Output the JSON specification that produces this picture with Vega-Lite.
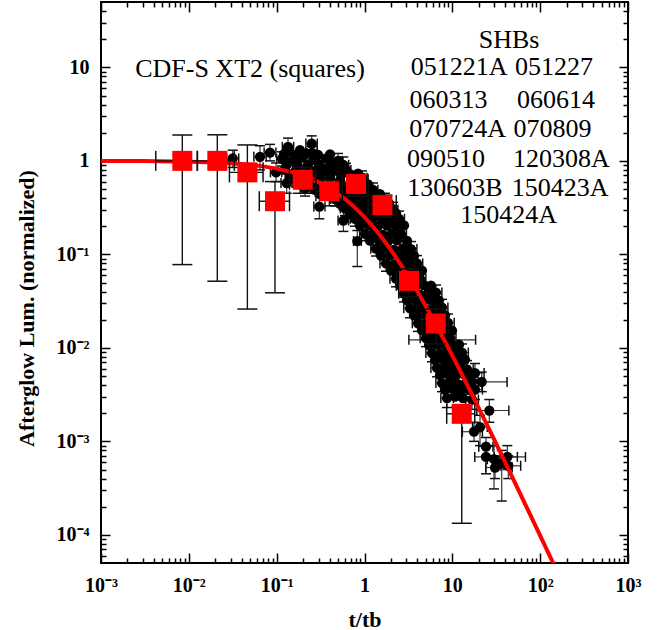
{
"$schema": "https://vega.github.io/schema/vega-lite/v6.json",
"width": 527, "height": 561,
"autosize": {"type": "none"},
"padding": {"left": 101, "top": 2, "right": 40, "bottom": 67},
"background": "white",
"config": {
  "view": {"stroke": "black", "strokeWidth": 2},
  "axis": {"domain": false, "grid": false, "tickColor": "black", "tickWidth": 1.5, "labelFont": "Liberation Serif", "labelFontWeight": "bold", "labelFontSize": 20, "labelColor": "black", "titleFont": "Liberation Serif", "titleFontWeight": "bold", "titleFontSize": 22, "titleColor": "black", "labelFlush": false, "labelOverlap": false}
},
"datasets": {
  "model": [
    {"x":0.001,"y":0.998},{"x":0.003,"y":0.994},{"x":0.01,"y":0.980},{"x":0.02,"y":0.961},{"x":0.03,"y":0.943},{"x":0.05,"y":0.907},{"x":0.07,"y":0.873},{"x":0.1,"y":0.826},{"x":0.15,"y":0.756},{"x":0.2,"y":0.694},{"x":0.25,"y":0.640},{"x":0.3,"y":0.592},{"x":0.4,"y":0.510},{"x":0.5,"y":0.444},{"x":0.6,"y":0.391},{"x":0.7,"y":0.346},{"x":0.85,"y":0.292},{"x":1,"y":0.25},{"x":1.25,"y":0.1975},{"x":1.5,"y":0.16},{"x":1.75,"y":0.1322},{"x":2,"y":0.1111},{"x":2.5,"y":0.0816},{"x":3,"y":0.0625},{"x":4,"y":0.04},{"x":5,"y":0.02778},{"x":6,"y":0.02041},{"x":7,"y":0.01563},{"x":8.5,"y":0.01108},{"x":10,"y":0.008264},{"x":12.5,"y":0.005487},{"x":15,"y":0.003906},{"x":20,"y":0.002268},{"x":25,"y":0.001479},{"x":30,"y":0.001041},{"x":40,"y":0.000595},{"x":50,"y":0.0003845},{"x":70,"y":0.0001984},{"x":100,"y":0.00009803},{"x":150,"y":0.00004386}
  ],
  "shb": [
    {"x":0.1346,"y":1.25},{"x":0.1843,"y":1.3},{"x":0.2526,"y":1.22},
    {"x":0.1212,"y":1.18},{"x":0.1618,"y":1.15},{"x":0.2158,"y":1.2},{"x":0.2956,"y":1.16},{"x":0.4048,"y":1.17},
    {"x":0.115,"y":1.05},{"x":0.1495,"y":1.0},{"x":0.1943,"y":1.08},{"x":0.2662,"y":1.02},{"x":0.3645,"y":1.06},{"x":0.4993,"y":1.0},
    {"x":0.1312,"y":0.92},{"x":0.1705,"y":0.93},{"x":0.2274,"y":0.91},{"x":0.3034,"y":0.92},{"x":0.4156,"y":0.94},{"x":0.5545,"y":0.91},
    {"x":0.1245,"y":0.82},{"x":0.1661,"y":0.80},{"x":0.2158,"y":0.84},{"x":0.2805,"y":0.79},{"x":0.3645,"y":0.83},{"x":0.4737,"y":0.81},{"x":0.6158,"y":0.80},
    {"x":0.1419,"y":0.72},{"x":0.1892,"y":0.73},{"x":0.246,"y":0.71},{"x":0.3198,"y":0.72},{"x":0.4156,"y":0.73},{"x":0.5402,"y":0.71},{"x":0.6841,"y":0.72},{"x":0.8435,"y":0.73},
    {"x":0.1419,"y":0.64},{"x":0.1843,"y":0.62},{"x":0.2396,"y":0.66},{"x":0.3115,"y":0.63},{"x":0.4048,"y":0.65},{"x":0.5262,"y":0.62},{"x":0.7209,"y":0.64},{"x":0.9367,"y":0.66},
    {"x":0.175,"y":0.565},{"x":0.2396,"y":0.56},{"x":0.3115,"y":0.57},{"x":0.4048,"y":0.565},{"x":0.5262,"y":0.56},{"x":0.6841,"y":0.57},{"x":0.8889,"y":0.565},{"x":1.0963,"y":0.56},
    {"x":0.2102,"y":0.50},{"x":0.2733,"y":0.49},{"x":0.3551,"y":0.52},{"x":0.4615,"y":0.50},{"x":0.5999,"y":0.48},{"x":0.7797,"y":0.51},{"x":1.0134,"y":0.50},{"x":1.25,"y":0.49},
    {"x":0.3115,"y":0.44},{"x":0.4048,"y":0.45},{"x":0.5262,"y":0.44},{"x":0.6841,"y":0.445},{"x":0.8889,"y":0.44},{"x":1.1553,"y":0.45},{"x":1.5014,"y":0.44},
    {"x":0.4615,"y":0.39},{"x":0.5999,"y":0.40},{"x":0.7797,"y":0.38},{"x":1.0134,"y":0.40},{"x":1.317,"y":0.39},{"x":1.712,"y":0.38},
    {"x":0.5262,"y":0.346},{"x":0.6841,"y":0.35},{"x":0.8889,"y":0.343},{"x":1.1553,"y":0.348},{"x":1.5014,"y":0.345},{"x":1.9008,"y":0.35},
    {"x":0.5999,"y":0.31},{"x":0.7797,"y":0.30},{"x":1.0134,"y":0.31},{"x":1.317,"y":0.30},{"x":1.712,"y":0.31},{"x":2.112,"y":0.30},
    {"x":0.6841,"y":0.27},{"x":0.8889,"y":0.275},{"x":1.1254,"y":0.268},{"x":1.4247,"y":0.272},{"x":1.8037,"y":0.27},{"x":2.284,"y":0.274},
    {"x":0.7797,"y":0.24},{"x":0.9872,"y":0.235},{"x":1.25,"y":0.245},{"x":1.583,"y":0.24},{"x":2.004,"y":0.235},{"x":2.471,"y":0.24},
    {"x":0.8889,"y":0.202},{"x":1.1254,"y":0.205},{"x":1.4247,"y":0.2},{"x":1.8037,"y":0.203},{"x":2.284,"y":0.201},{"x":2.818,"y":0.204},
    {"x":1.0134,"y":0.166},{"x":1.283,"y":0.17},{"x":1.625,"y":0.162},{"x":2.057,"y":0.168},{"x":2.604,"y":0.165},
    {"x":1.1553,"y":0.14},{"x":1.4625,"y":0.142},{"x":1.8516,"y":0.138},{"x":2.3447,"y":0.141},{"x":3.0485,"y":0.139},
    {"x":1.352,"y":0.115},{"x":1.712,"y":0.118},{"x":2.168,"y":0.112},{"x":2.744,"y":0.116},{"x":3.386,"y":0.114},
    {"x":1.542,"y":0.097},{"x":1.952,"y":0.098},{"x":2.407,"y":0.096},{"x":2.9696,"y":0.0975},{"x":3.662,"y":0.0965},
    {"x":1.757,"y":0.080},{"x":2.168,"y":0.078},{"x":2.673,"y":0.081},{"x":3.298,"y":0.079},{"x":3.962,"y":0.080},
    {"x":2.004,"y":0.067},{"x":2.471,"y":0.068},{"x":3.0485,"y":0.066},{"x":3.7593,"y":0.0675},{"x":4.5167,"y":0.067},
    {"x":2.284,"y":0.055},{"x":2.818,"y":0.056},{"x":3.475,"y":0.054},{"x":4.286,"y":0.055},
    {"x":2.5366,"y":0.0465},{"x":3.1295,"y":0.047},{"x":3.8592,"y":0.046},{"x":4.7599,"y":0.0468},{"x":5.7175,"y":0.0462},
    {"x":2.818,"y":0.038},{"x":3.475,"y":0.039},{"x":4.286,"y":0.037},{"x":5.285,"y":0.038},{"x":6.52,"y":0.039},
    {"x":3.0485,"y":0.0322},{"x":3.7593,"y":0.0326},{"x":4.6367,"y":0.0318},{"x":5.7175,"y":0.0324},{"x":7.0533,"y":0.032},
    {"x":3.298,"y":0.0265},{"x":4.067,"y":0.027},{"x":5.015,"y":0.026},{"x":6.186,"y":0.0265},{"x":7.629,"y":0.027},
    {"x":3.662,"y":0.0223},{"x":4.5167,"y":0.0226},{"x":5.5696,"y":0.022},{"x":6.8708,"y":0.0225},{"x":8.254,"y":0.0222},
    {"x":4.067,"y":0.0183},{"x":5.015,"y":0.018},{"x":6.186,"y":0.0186},{"x":7.629,"y":0.0182},{"x":8.93,"y":0.0185},
    {"x":4.5167,"y":0.0154},{"x":5.5696,"y":0.0156},{"x":6.8708,"y":0.0152},{"x":8.4732,"y":0.0155},{"x":9.917,"y":0.0153},
    {"x":5.015,"y":0.0127},{"x":6.186,"y":0.013},{"x":7.629,"y":0.0125},{"x":9.41,"y":0.0128},{"x":7.239,"y":0.0122},
    {"x":5.4254,"y":0.0107},{"x":6.693,"y":0.0108},{"x":8.254,"y":0.0106},{"x":10.18,"y":0.0107},{"x":11.918,"y":0.0108},
    {"x":5.87,"y":0.0088},{"x":7.239,"y":0.0086},{"x":8.93,"y":0.009},{"x":11.01,"y":0.0087},{"x":12.89,"y":0.0089},
    {"x":6.3503,"y":0.0074},{"x":7.8316,"y":0.0075},{"x":9.6599,"y":0.0073},{"x":11.918,"y":0.0074},{"x":13.942,"y":0.0075},
    {"x":6.693,"y":0.0061},{"x":8.254,"y":0.0062},{"x":10.18,"y":0.006},{"x":12.55,"y":0.0061},{"x":14.69,"y":0.0059},
    {"x":7.239,"y":0.0051},{"x":8.93,"y":0.0052},{"x":11.01,"y":0.0051},{"x":13.581,"y":0.0052},{"x":15.891,"y":0.0050},
    {"x":7.629,"y":0.0042},{"x":9.41,"y":0.0043},{"x":11.61,"y":0.0041},{"x":14.31,"y":0.0042},{"x":16.75,"y":0.0043},
    {"x":8.254,"y":0.00355},{"x":10.18,"y":0.0036},{"x":12.55,"y":0.0035},{"x":15.48,"y":0.00355},{"x":17.651,"y":0.0036},
    {"x":8.699,"y":0.0029},{"x":10.73,"y":0.003},{"x":13.23,"y":0.0029},{"x":16.75,"y":0.0028},
    {"x":0.0316,"y":1.061},{"x":0.0646,"y":1.103},{"x":0.084,"y":1.228},{"x":0.0984,"y":0.753},{"x":0.13,"y":0.579},{"x":0.1346,"y":1.41},{"x":0.2506,"y":1.532},{"x":0.2506,"y":1.199},{"x":0.306,"y":0.324},{"x":0.574,"y":0.907},{"x":0.574,"y":0.23},{"x":0.828,"y":0.1389},
    {"x":18.12,"y":0.00538},{"x":21.6,"y":0.00432},{"x":18.12,"y":0.00358},{"x":26.36,"y":0.002137},{"x":20.66,"y":0.001423},{"x":17.65,"y":0.001268},{"x":24.18,"y":0.000878},{"x":24.18,"y":0.000682},{"x":29.83,"y":0.000644},{"x":42.27,"y":0.000682},{"x":30.6,"y":0.000525},{"x":36.49,"y":0.000579},{"x":43.4,"y":0.000548}
  ],
  "shbErr": [
    {"x":0.0316,"y":1.061,"xl":0.027,"xh":0.037,"yl":0.85,"yh":1.3},
    {"x":0.0646,"y":1.103,"xl":0.055,"xh":0.076,"yl":0.8,"yh":1.45},
    {"x":0.084,"y":1.228,"xl":0.072,"xh":0.098,"yl":1.0,"yh":1.5},
    {"x":0.0984,"y":0.753,"xl":0.085,"xh":0.114,"yl":0.6,"yh":0.95},
    {"x":0.13,"y":0.579,"xl":0.112,"xh":0.15,"yl":0.45,"yh":0.72},
    {"x":0.1346,"y":1.41,"xl":0.116,"xh":0.156,"yl":1.15,"yh":1.75},
    {"x":0.2506,"y":1.532,"xl":0.215,"xh":0.29,"yl":1.3,"yh":1.85},
    {"x":0.2506,"y":1.199,"xl":0.215,"xh":0.29,"yl":1.0,"yh":1.45},
    {"x":0.306,"y":0.324,"xl":0.265,"xh":0.355,"yl":0.24,"yh":0.42},
    {"x":0.574,"y":0.907,"xl":0.5,"xh":0.66,"yl":0.75,"yh":1.1},
    {"x":0.574,"y":0.23,"xl":0.5,"xh":0.66,"yl":0.176,"yh":0.3},
    {"x":0.828,"y":0.1389,"xl":0.75,"xh":0.92,"yl":0.074,"yh":0.18},
    {"x":18.12,"y":0.00538,"xl":14,"xh":23,"yl":0.0043,"yh":0.0068},
    {"x":21.6,"y":0.00432,"xl":14.5,"xh":42,"yl":0.0034,"yh":0.0055},
    {"x":18.12,"y":0.00358,"xl":15,"xh":22,"yl":0.0028,"yh":0.0046},
    {"x":26.36,"y":0.002137,"xl":19,"xh":44,"yl":0.0016,"yh":0.0028},
    {"x":20.66,"y":0.001423,"xl":17,"xh":25,"yl":0.0009,"yh":0.0019},
    {"x":17.65,"y":0.001268,"xl":13,"xh":22,"yl":0.001,"yh":0.0016},
    {"x":24.18,"y":0.000878,"xl":20,"xh":29,"yl":0.0007,"yh":0.0011},
    {"x":24.18,"y":0.000682,"xl":18,"xh":68,"yl":0.00045,"yh":0.0009},
    {"x":29.83,"y":0.000644,"xl":25,"xh":35,"yl":0.00031,"yh":0.0009},
    {"x":42.27,"y":0.000682,"xl":30,"xh":55,"yl":0.0005,"yh":0.0009},
    {"x":30.6,"y":0.000525,"xl":24,"xh":48,"yl":0.0004,"yh":0.0007},
    {"x":36.49,"y":0.000579,"xl":31,"xh":43,"yl":0.00023,"yh":0.0008},
    {"x":43.4,"y":0.000548,"xl":35,"xh":60,"yl":0.0004,"yh":0.0007},
    {"x":0.1346,"y":1.25,"xl":0.12,"xh":0.15,"yl":1.05,"yh":1.45},
    {"x":0.2526,"y":1.22,"xl":0.22,"xh":0.29,"yl":1.05,"yh":1.42},
    {"x":0.115,"y":1.05,"xl":0.1,"xh":0.13,"yl":0.88,"yh":1.25},
    {"x":0.4993,"y":1.0,"xl":0.44,"xh":0.56,"yl":0.85,"yh":1.2},
    {"x":0.6158,"y":0.80,"xl":0.54,"xh":0.7,"yl":0.68,"yh":0.94},
    {"x":0.9367,"y":0.66,"xl":0.82,"xh":1.07,"yl":0.56,"yh":0.78},
    {"x":0.1419,"y":0.64,"xl":0.125,"xh":0.16,"yl":0.54,"yh":0.76},
    {"x":1.25,"y":0.49,"xl":1.1,"xh":1.42,"yl":0.41,"yh":0.58},
    {"x":0.2102,"y":0.50,"xl":0.185,"xh":0.24,"yl":0.42,"yh":0.6},
    {"x":1.712,"y":0.38,"xl":1.5,"xh":1.95,"yl":0.32,"yh":0.45},
    {"x":0.4615,"y":0.39,"xl":0.41,"xh":0.52,"yl":0.33,"yh":0.46},
    {"x":2.112,"y":0.30,"xl":1.85,"xh":2.4,"yl":0.25,"yh":0.36},
    {"x":0.5999,"y":0.31,"xl":0.53,"xh":0.68,"yl":0.26,"yh":0.37},
    {"x":2.471,"y":0.24,"xl":2.15,"xh":2.85,"yl":0.2,"yh":0.29},
    {"x":0.7797,"y":0.24,"xl":0.69,"xh":0.88,"yl":0.2,"yh":0.29},
    {"x":2.604,"y":0.165,"xl":2.25,"xh":3.0,"yl":0.138,"yh":0.197},
    {"x":1.0134,"y":0.166,"xl":0.88,"xh":1.16,"yl":0.14,"yh":0.2},
    {"x":3.386,"y":0.114,"xl":2.9,"xh":3.95,"yl":0.095,"yh":0.137},
    {"x":1.352,"y":0.115,"xl":1.18,"xh":1.55,"yl":0.096,"yh":0.138},
    {"x":3.962,"y":0.080,"xl":3.4,"xh":4.6,"yl":0.066,"yh":0.097},
    {"x":1.757,"y":0.080,"xl":1.5,"xh":2.05,"yl":0.066,"yh":0.096},
    {"x":4.286,"y":0.055,"xl":3.7,"xh":5.0,"yl":0.045,"yh":0.067},
    {"x":2.284,"y":0.055,"xl":1.95,"xh":2.65,"yl":0.045,"yh":0.067},
    {"x":6.52,"y":0.039,"xl":5.6,"xh":7.6,"yl":0.032,"yh":0.047},
    {"x":2.818,"y":0.038,"xl":2.45,"xh":3.25,"yl":0.031,"yh":0.046},
    {"x":7.629,"y":0.027,"xl":6.5,"xh":8.9,"yl":0.022,"yh":0.033},
    {"x":3.298,"y":0.0265,"xl":2.8,"xh":3.9,"yl":0.021,"yh":0.032},
    {"x":8.93,"y":0.0185,"xl":7.6,"xh":10.5,"yl":0.015,"yh":0.023},
    {"x":4.067,"y":0.0183,"xl":3.5,"xh":4.8,"yl":0.015,"yh":0.022},
    {"x":9.41,"y":0.0128,"xl":8,"xh":11,"yl":0.0104,"yh":0.0157},
    {"x":5.015,"y":0.0127,"xl":4.3,"xh":5.9,"yl":0.0103,"yh":0.0156},
    {"x":7.239,"y":0.0122,"xl":3.2,"xh":18.4,"yl":0.01,"yh":0.015},
    {"x":12.89,"y":0.0089,"xl":11,"xh":15.2,"yl":0.0072,"yh":0.011},
    {"x":5.87,"y":0.0088,"xl":5.0,"xh":6.9,"yl":0.0071,"yh":0.0108},
    {"x":14.69,"y":0.0059,"xl":12.5,"xh":17.3,"yl":0.0048,"yh":0.0073},
    {"x":6.693,"y":0.0061,"xl":5.7,"xh":7.9,"yl":0.0049,"yh":0.0075},
    {"x":16.75,"y":0.0043,"xl":14.2,"xh":19.8,"yl":0.0035,"yh":0.0053},
    {"x":7.629,"y":0.0042,"xl":6.5,"xh":9.0,"yl":0.0034,"yh":0.0052},
    {"x":16.75,"y":0.0028,"xl":14.2,"xh":19.8,"yl":0.0022,"yh":0.0035},
    {"x":8.699,"y":0.0029,"xl":7.4,"xh":10.3,"yl":0.0023,"yh":0.0036}
  ],
  "xt2": [
    {"x":0.00843,"y":1.0,"xl":0.0042,"xh":0.0125,"yl":0.0777,"yh":1.89},
    {"x":0.0211,"y":1.0,"xl":0.0125,"xh":0.033,"yl":0.0516,"yh":1.9},
    {"x":0.0464,"y":0.753,"xl":0.029,"xh":0.07,"yl":0.026,"yh":1.48},
    {"x":0.0957,"y":0.37,"xl":0.0634,"xh":0.14,"yl":0.0388,"yh":0.6},
    {"x":0.198,"y":0.628,"xl":0.14,"xh":0.28,"yl":0.45,"yh":0.85},
    {"x":0.398,"y":0.473,"xl":0.28,"xh":0.56,"yl":0.33,"yh":0.62},
    {"x":0.80,"y":0.565,"xl":0.56,"xh":1.1,"yl":0.42,"yh":0.72},
    {"x":1.6,"y":0.336,"xl":1.1,"xh":2.3,"yl":0.25,"yh":0.43},
    {"x":3.21,"y":0.0521,"xl":2.3,"xh":4.5,"yl":0.035,"yh":0.07},
    {"x":6.47,"y":0.0182,"xl":4.5,"xh":9.0,"yl":0.011,"yh":0.026},
    {"x":12.8,"y":0.00197,"xl":8.63,"xh":18,"yl":0.000133,"yh":0.0024}
  ],
  "labels": [
    {"x":0.0497,"y":7.96,"t":"CDF-S XT2 (squares)"},
    {"x":44.19,"y":16.08,"t":"SHBs"},
    {"x":11.92,"y":8.365,"t":"051221A"},{"x":143.8,"y":8.365,"t":"051227"},
    {"x":9.05,"y":3.70,"t":"060313"},{"x":151.5,"y":3.70,"t":"060614"},
    {"x":11.46,"y":1.818,"t":"070724A"},{"x":138.2,"y":1.818,"t":"070809"},
    {"x":8.47,"y":0.851,"t":"090510"},{"x":175.0,"y":0.851,"t":"120308A"},
    {"x":10.73,"y":0.4242,"t":"130603B"},{"x":168.3,"y":0.4242,"t":"150423A"},
    {"x":43.62,"y":0.2175,"t":"150424A"}
  ]
},
"resolve": {"axis": {"x": "independent", "y": "independent"}},
"layer": [
  {
    "data": {"name": "model"},
    "mark": {"type": "point", "opacity": 0},
    "encoding": {
      "x": {"field": "x", "type": "quantitative", "scale": {"type": "log", "domain": [0.001, 1000], "nice": false},
        "axis": {"orient": "bottom", "values": [0.001, 0.01, 0.1, 1, 10, 100, 1000], "tickSize": -10, "labelPadding": 22,
          "labelExpr": "datum.value > 500 ? '10³' : datum.value > 50 ? '10²' : datum.value > 5 ? '10' : datum.value > 0.5 ? '1' : datum.value > 0.05 ? '10⁻¹' : datum.value > 0.005 ? '10⁻²' : datum.value > 0.0005 ? '10⁻³' : '10⁻⁴'",
          "title": "t/tb", "titleY": 63, "titleBaseline": "alphabetic"}},
      "y": {"field": "y", "type": "quantitative", "scale": {"type": "log", "domain": [0.00005, 50], "nice": false},
        "axis": {"orient": "left", "values": [0.0001, 0.001, 0.01, 0.1, 1, 10], "tickSize": -9, "labelPadding": 21,
          "labelExpr": "datum.value > 500 ? '10³' : datum.value > 50 ? '10²' : datum.value > 5 ? '10' : datum.value > 0.5 ? '1' : datum.value > 0.05 ? '10⁻¹' : datum.value > 0.005 ? '10⁻²' : datum.value > 0.0005 ? '10⁻³' : '10⁻⁴'",
          "title": "Afterglow Lum. (normalized)", "titleX": -75, "titleY": 306, "titleAngle": -90, "titleAlign": "center", "titleBaseline": "middle"}}
    }
  },
  {
    "data": {"name": "model"},
    "mark": {"type": "point", "opacity": 0},
    "encoding": {
      "x": {"field": "x", "type": "quantitative", "scale": {"type": "log", "domain": [0.001, 1000], "nice": false},
        "axis": {"orient": "bottom", "values": [0.002,0.003,0.004,0.005,0.006,0.007,0.008,0.009,0.02,0.03,0.04,0.05,0.06,0.07,0.08,0.09,0.2,0.3,0.4,0.5,0.6,0.7,0.8,0.9,2,3,4,5,6,7,8,9,20,30,40,50,60,70,80,90,200,300,400,500,600,700,800,900], "tickSize": -5, "labels": false, "title": null}},
      "y": {"field": "y", "type": "quantitative", "scale": {"type": "log", "domain": [0.00005, 50], "nice": false},
        "axis": {"orient": "left", "values": [0.00006,0.00007,0.00008,0.00009,0.0002,0.0003,0.0004,0.0005,0.0006,0.0007,0.0008,0.0009,0.002,0.003,0.004,0.005,0.006,0.007,0.008,0.009,0.02,0.03,0.04,0.05,0.06,0.07,0.08,0.09,0.2,0.3,0.4,0.5,0.6,0.7,0.8,0.9,2,3,4,5,6,7,8,9,20,30,40], "tickSize": -5, "labels": false, "title": null}}
    }
  },
  {
    "data": {"name": "model"},
    "mark": {"type": "point", "opacity": 0},
    "encoding": {
      "x": {"field": "x", "type": "quantitative", "scale": {"type": "log", "domain": [0.001, 1000], "nice": false},
        "axis": {"orient": "top", "values": [0.001, 0.01, 0.1, 1, 10, 100, 1000], "tickSize": -10, "labels": false, "title": null}},
      "y": {"field": "y", "type": "quantitative", "scale": {"type": "log", "domain": [0.00005, 50], "nice": false},
        "axis": {"orient": "right", "values": [0.0001, 0.001, 0.01, 0.1, 1, 10], "tickSize": -9, "labels": false, "title": null}}
    }
  },
  {
    "data": {"name": "model"},
    "mark": {"type": "point", "opacity": 0},
    "encoding": {
      "x": {"field": "x", "type": "quantitative", "scale": {"type": "log", "domain": [0.001, 1000], "nice": false},
        "axis": {"orient": "top", "values": [0.002,0.003,0.004,0.005,0.006,0.007,0.008,0.009,0.02,0.03,0.04,0.05,0.06,0.07,0.08,0.09,0.2,0.3,0.4,0.5,0.6,0.7,0.8,0.9,2,3,4,5,6,7,8,9,20,30,40,50,60,70,80,90,200,300,400,500,600,700,800,900], "tickSize": -5, "labels": false, "title": null}},
      "y": {"field": "y", "type": "quantitative", "scale": {"type": "log", "domain": [0.00005, 50], "nice": false},
        "axis": {"orient": "right", "values": [0.00006,0.00007,0.00008,0.00009,0.0002,0.0003,0.0004,0.0005,0.0006,0.0007,0.0008,0.0009,0.002,0.003,0.004,0.005,0.006,0.007,0.008,0.009,0.02,0.03,0.04,0.05,0.06,0.07,0.08,0.09,0.2,0.3,0.4,0.5,0.6,0.7,0.8,0.9,2,3,4,5,6,7,8,9,20,30,40], "tickSize": -5, "labels": false, "title": null}}
    }
  },
  {
    "data": {"name": "shbErr"},
    "mark": {"type": "rule", "color": "#333333", "strokeWidth": 1.2, "clip": true},
    "encoding": {
      "x": {"field": "x", "type": "quantitative", "scale": {"type": "log", "domain": [0.001, 1000], "nice": false}, "axis": null},
      "y": {"field": "yl", "type": "quantitative", "scale": {"type": "log", "domain": [0.00005, 50], "nice": false}, "axis": null},
      "y2": {"field": "yh"}
    }
  },
  {
    "data": {"name": "shbErr"},
    "mark": {"type": "rule", "color": "#333333", "strokeWidth": 1.2, "clip": true},
    "encoding": {
      "y": {"field": "y", "type": "quantitative", "scale": {"type": "log", "domain": [0.00005, 50], "nice": false}, "axis": null},
      "x": {"field": "xl", "type": "quantitative", "scale": {"type": "log", "domain": [0.001, 1000], "nice": false}, "axis": null},
      "x2": {"field": "xh"}
    }
  },
  {
    "data": {"name": "shbErr"},
    "mark": {"type": "tick", "orient": "horizontal", "size": 10, "thickness": 1.5, "color": "#111111", "opacity": 1},
    "encoding": {
      "x": {"field": "x", "type": "quantitative", "scale": {"type": "log", "domain": [0.001, 1000], "nice": false}, "axis": null},
      "y": {"field": "yl", "type": "quantitative", "scale": {"type": "log", "domain": [0.00005, 50], "nice": false}, "axis": null}
    }
  },
  {
    "data": {"name": "shbErr"},
    "mark": {"type": "tick", "orient": "horizontal", "size": 10, "thickness": 1.5, "color": "#111111", "opacity": 1},
    "encoding": {
      "x": {"field": "x", "type": "quantitative", "scale": {"type": "log", "domain": [0.001, 1000], "nice": false}, "axis": null},
      "y": {"field": "yh", "type": "quantitative", "scale": {"type": "log", "domain": [0.00005, 50], "nice": false}, "axis": null}
    }
  },
  {
    "data": {"name": "shbErr"},
    "mark": {"type": "tick", "orient": "vertical", "size": 10, "thickness": 1.5, "color": "#111111", "opacity": 1},
    "encoding": {
      "x": {"field": "xl", "type": "quantitative", "scale": {"type": "log", "domain": [0.001, 1000], "nice": false}, "axis": null},
      "y": {"field": "y", "type": "quantitative", "scale": {"type": "log", "domain": [0.00005, 50], "nice": false}, "axis": null}
    }
  },
  {
    "data": {"name": "shbErr"},
    "mark": {"type": "tick", "orient": "vertical", "size": 10, "thickness": 1.5, "color": "#111111", "opacity": 1},
    "encoding": {
      "x": {"field": "xh", "type": "quantitative", "scale": {"type": "log", "domain": [0.001, 1000], "nice": false}, "axis": null},
      "y": {"field": "y", "type": "quantitative", "scale": {"type": "log", "domain": [0.00005, 50], "nice": false}, "axis": null}
    }
  },
  {
    "data": {"name": "shb"},
    "mark": {"type": "point", "shape": "circle", "filled": true, "size": 105, "color": "black", "opacity": 1},
    "encoding": {
      "x": {"field": "x", "type": "quantitative", "scale": {"type": "log", "domain": [0.001, 1000], "nice": false}, "axis": null},
      "y": {"field": "y", "type": "quantitative", "scale": {"type": "log", "domain": [0.00005, 50], "nice": false}, "axis": null}
    }
  },
  {
    "data": {"name": "model"},
    "mark": {"type": "line", "color": "#ff0000", "strokeWidth": 4, "clip": true},
    "encoding": {
      "x": {"field": "x", "type": "quantitative", "scale": {"type": "log", "domain": [0.001, 1000], "nice": false}, "axis": null},
      "y": {"field": "y", "type": "quantitative", "scale": {"type": "log", "domain": [0.00005, 50], "nice": false}, "axis": null}
    }
  },
  {
    "data": {"name": "xt2"},
    "mark": {"type": "rule", "color": "#111111", "strokeWidth": 1.4},
    "encoding": {
      "x": {"field": "x", "type": "quantitative", "scale": {"type": "log", "domain": [0.001, 1000], "nice": false}, "axis": null},
      "y": {"field": "yl", "type": "quantitative", "scale": {"type": "log", "domain": [0.00005, 50], "nice": false}, "axis": null},
      "y2": {"field": "yh"}
    }
  },
  {
    "data": {"name": "xt2"},
    "mark": {"type": "rule", "color": "#111111", "strokeWidth": 1.4},
    "encoding": {
      "y": {"field": "y", "type": "quantitative", "scale": {"type": "log", "domain": [0.00005, 50], "nice": false}, "axis": null},
      "x": {"field": "xl", "type": "quantitative", "scale": {"type": "log", "domain": [0.001, 1000], "nice": false}, "axis": null},
      "x2": {"field": "xh"}
    }
  },
  {
    "data": {"name": "xt2"},
    "mark": {"type": "tick", "orient": "horizontal", "size": 20, "thickness": 1.5, "color": "#111111", "opacity": 1},
    "encoding": {
      "x": {"field": "x", "type": "quantitative", "scale": {"type": "log", "domain": [0.001, 1000], "nice": false}, "axis": null},
      "y": {"field": "yl", "type": "quantitative", "scale": {"type": "log", "domain": [0.00005, 50], "nice": false}, "axis": null}
    }
  },
  {
    "data": {"name": "xt2"},
    "mark": {"type": "tick", "orient": "horizontal", "size": 20, "thickness": 1.5, "color": "#111111", "opacity": 1},
    "encoding": {
      "x": {"field": "x", "type": "quantitative", "scale": {"type": "log", "domain": [0.001, 1000], "nice": false}, "axis": null},
      "y": {"field": "yh", "type": "quantitative", "scale": {"type": "log", "domain": [0.00005, 50], "nice": false}, "axis": null}
    }
  },
  {
    "data": {"name": "xt2"},
    "mark": {"type": "tick", "orient": "vertical", "size": 20, "thickness": 1.5, "color": "#111111", "opacity": 1},
    "encoding": {
      "x": {"field": "xl", "type": "quantitative", "scale": {"type": "log", "domain": [0.001, 1000], "nice": false}, "axis": null},
      "y": {"field": "y", "type": "quantitative", "scale": {"type": "log", "domain": [0.00005, 50], "nice": false}, "axis": null}
    }
  },
  {
    "data": {"name": "xt2"},
    "mark": {"type": "tick", "orient": "vertical", "size": 20, "thickness": 1.5, "color": "#111111", "opacity": 1},
    "encoding": {
      "x": {"field": "xh", "type": "quantitative", "scale": {"type": "log", "domain": [0.001, 1000], "nice": false}, "axis": null},
      "y": {"field": "y", "type": "quantitative", "scale": {"type": "log", "domain": [0.00005, 50], "nice": false}, "axis": null}
    }
  },
  {
    "data": {"name": "xt2"},
    "mark": {"type": "point", "shape": "square", "filled": true, "size": 400, "color": "#ff0000", "opacity": 1},
    "encoding": {
      "x": {"field": "x", "type": "quantitative", "scale": {"type": "log", "domain": [0.001, 1000], "nice": false}, "axis": null},
      "y": {"field": "y", "type": "quantitative", "scale": {"type": "log", "domain": [0.00005, 50], "nice": false}, "axis": null}
    }
  },
  {
    "data": {"name": "labels"},
    "mark": {"type": "text", "font": "Liberation Serif", "fontSize": 26, "align": "center", "baseline": "alphabetic", "color": "black"},
    "encoding": {
      "x": {"field": "x", "type": "quantitative", "scale": {"type": "log", "domain": [0.001, 1000], "nice": false}, "axis": null},
      "y": {"field": "y", "type": "quantitative", "scale": {"type": "log", "domain": [0.00005, 50], "nice": false}, "axis": null},
      "text": {"field": "t"}
    }
  }
]
}
